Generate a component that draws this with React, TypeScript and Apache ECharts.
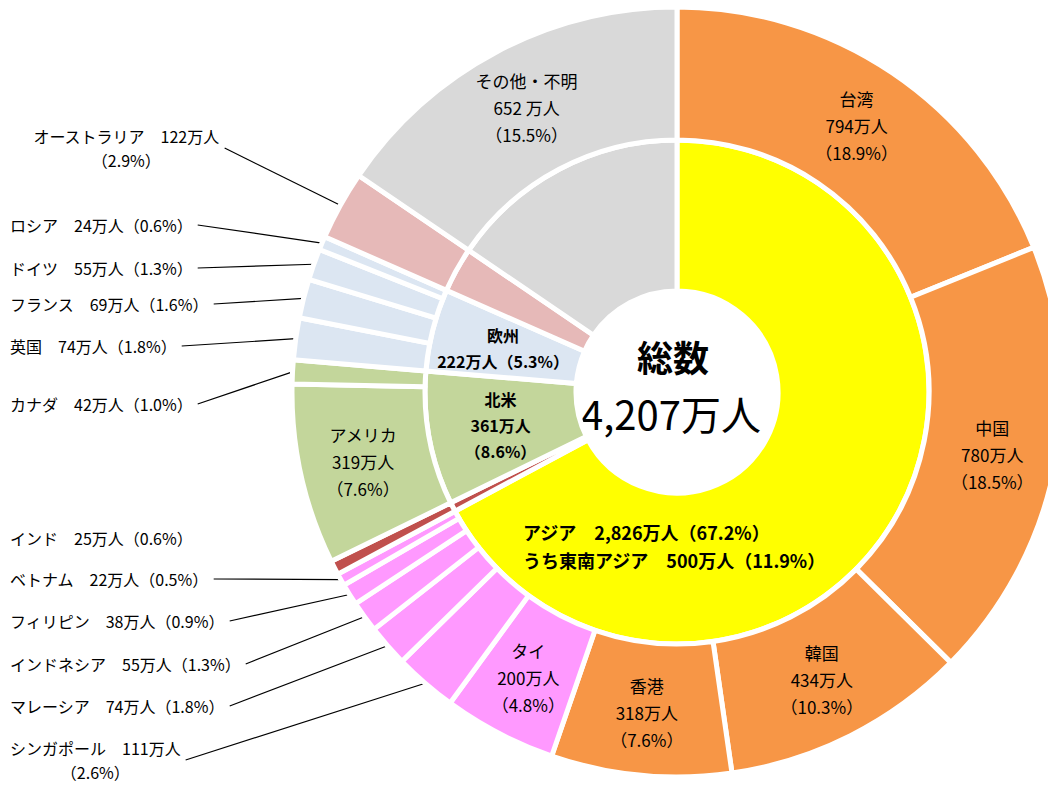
import React, { useEffect, useRef } from "react";
import * as echarts from "echarts";

// ---------- data ----------
const TOTAL = 4207;
const TOTAL_LABEL = "総数";

const outerNames = [
  "台湾", "中国", "韓国", "香港", "タイ", "シンガポール", "マレーシア", "インドネシア",
  "フィリピン", "ベトナム", "インド", "アメリカ", "カナダ", "英国", "フランス", "ドイツ",
  "ロシア", "オーストラリア", "その他・不明",
];
const outerValues = [794, 780, 434, 318, 200, 111, 74, 55, 38, 22, 25, 319, 42, 74, 69, 55, 24, 122, 652];
const outerPcts = [18.9, 18.5, 10.3, 7.6, 4.8, 2.6, 1.8, 1.3, 0.9, 0.5, 0.6, 7.6, 1.0, 1.8, 1.6, 1.3, 0.6, 2.9, 15.5];

const innerNames = ["アジア", "インド", "北米", "欧州", "オーストラリア", "その他・不明"];
const innerValues = [2826, 25, 361, 222, 122, 652];
const innerPcts = [67.2, 0.6, 8.6, 5.3, 2.9, 15.5];

const subName = "うち東南アジア";
const subValue = 500;
const subPct = 11.9;

// ---------- styles ----------
const ORANGE = "#F79646";
const PINK = "#FF99FF";
const RED = "#C0504D";
const GREEN = "#C3D69B";
const BLUE = "#DCE6F2";
const ROSE = "#E6B9B8";
const GRAY = "#D9D9D9";
const YELLOW = "#FFFF00";

const outerColors = [
  ORANGE, ORANGE, ORANGE, ORANGE, PINK, PINK, PINK, PINK, PINK, PINK, RED,
  GREEN, GREEN, BLUE, BLUE, BLUE, BLUE, ROSE, GRAY,
];
const innerColors = [YELLOW, RED, GREEN, BLUE, ROSE, GRAY];

// label kind for outer ring: "in" = inside, "out" = left column with leader line, "outNoLine" = left column, no line
const outerLabelKind = [
  "in", "in", "in", "in", "in", "out", "out", "out", "out", "out", "outNoLine",
  "in", "out", "out", "out", "out", "out", "out", "in",
];
// left column label placement: [left, centerY, centered]
const outerLabelPlace: Record<number, [number, number, boolean]> = {
  5: [10, 760, true],
  6: [10, 706, false],
  7: [10, 664, false],
  8: [10, 621, false],
  9: [10, 579, false],
  10: [10, 538, false],
  12: [10, 404, false],
  13: [10, 346, false],
  14: [10, 304, false],
  15: [10, 268, false],
  16: [10, 225, false],
  17: [33, 148, true],
};
const innerLabelShow = [true, false, true, true, false, false];

const FONT = "'Noto Sans CJK JP', 'Noto Sans CJK SC', sans-serif";
const CENTER: [number, number] = [677, 392];

const fmt = (n: number) => n.toLocaleString("en-US");
const pct = (p: number) => `（${p.toFixed(1)}%）`;

function outerLabelText(i: number): string {
  const name = outerNames[i];
  const v = outerValues[i];
  const p = pct(outerPcts[i]);
  const kind = outerLabelKind[i];
  if (kind === "in") {
    if (name === "その他・不明") return `${name}\n${fmt(v)} 万人\n${p}`;
    return `${name}\n${fmt(v)}万人\n${p}`;
  }
  const place = outerLabelPlace[i];
  if (place && place[2]) return `${name}　${fmt(v)}万人\n${p}`;
  return `${name}　${fmt(v)}万人${p}`;
}

function innerLabelText(i: number): string {
  const name = innerNames[i];
  const v = innerValues[i];
  const p = pct(innerPcts[i]);
  if (i === 0) return `${name}　${fmt(v)}万人${p}\n${subName}　${fmt(subValue)}万人${pct(subPct)}`;
  if (name === "欧州") return `${name}\n${fmt(v)}万人${p}`;
  return `${name}\n${fmt(v)}万人\n${p}`;
}

export default function App() {
  const ref = useRef<HTMLDivElement>(null);

  useEffect(() => {
    document.body.style.margin = "0";
    if (!ref.current) return;
    const chart = echarts.init(ref.current, undefined, { renderer: "svg" });

    const outerData = outerValues.map((v, i) => {
      const kind = outerLabelKind[i];
      return {
        name: outerNames[i],
        value: v,
        itemStyle: { color: outerColors[i] },
        label: {
          show: true,
          position: kind === "in" ? "inside" : "outside",
          formatter: outerLabelText(i),
          fontSize: kind === "in" ? 17 : 16,
          lineHeight: kind === "in" ? 27 : 24,
          color: "#000",
          fontFamily: FONT,
        },
        labelLine: {
          show: kind === "out",
          lineStyle: { color: "#000", width: 1.2 },
        },
      };
    });

    const innerData = innerValues.map((v, i) => ({
      name: innerNames[i],
      value: v,
      itemStyle: { color: innerColors[i] },
      label: {
        show: innerLabelShow[i],
        position: "inside",
        formatter: innerLabelText(i),
        fontSize: i === 0 ? 18 : 16,
        lineHeight: i === 0 ? 28 : 26,
        fontWeight: "bold",
        color: "#000",
        fontFamily: FONT,
        align: i === 0 ? "left" : "center",
      },
      labelLine: { show: false },
    }));

    chart.setOption({
      animation: false,
      backgroundColor: "#fff",
      series: [
        {
          type: "pie",
          name: "inner",
          center: CENTER,
          radius: [101, 252],
          startAngle: 90,
          clockwise: true,
          avoidLabelOverlap: false,
          silent: true,
          itemStyle: { borderColor: "#fff", borderWidth: 5 },
          data: innerData,
          labelLayout: (params: any) => {
            if (params.dataIndex === 0) {
              return { x: 523, y: 546, align: "left", verticalAlign: "middle" };
            }
            return {};
          },
        },
        {
          type: "pie",
          name: "outer",
          center: CENTER,
          radius: [252, 385],
          startAngle: 90,
          clockwise: true,
          avoidLabelOverlap: false,
          silent: true,
          itemStyle: { borderColor: "#fff", borderWidth: 5 },
          labelLine: { length: 10, length2: 10 },
          data: outerData,
          labelLayout: (params: any) => {
            const place = outerLabelPlace[params.dataIndex];
            if (!place) return {};
            const [left, cy, centered] = place;
            const w = params.labelRect.width;
            const res: any = {
              x: centered ? left + w / 2 : left,
              y: cy,
              align: centered ? "center" : "left",
              verticalAlign: "middle",
            };
            const pts = params.labelLinePoints;
            if (pts && pts.length && outerLabelKind[params.dataIndex] === "out") {
              const end = [left + w + 5, cy];
              res.labelLinePoints = [pts[0], end, end];
            }
            return res;
          },
        },
      ],
      graphic: [
        {
          type: "text",
          x: CENTER[0] - 4,
          y: 356,
          silent: true,
          style: {
            text: TOTAL_LABEL,
            fontSize: 36,
            lineHeight: 38,
            fontWeight: "bold",
            fontFamily: FONT,
            fill: "#000",
            align: "center",
            verticalAlign: "middle",
            textAlign: "center",
            textVerticalAlign: "middle",
          },
        },
        {
          type: "text",
          x: CENTER[0] - 6,
          y: 413,
          silent: true,
          style: {
            text: `${fmt(TOTAL)}万人`,
            fontSize: 40,
            lineHeight: 42,
            fontFamily: FONT,
            fill: "#000",
            align: "center",
            verticalAlign: "middle",
            textAlign: "center",
            textVerticalAlign: "middle",
          },
        },
      ],
    });

    return () => {
      chart.dispose();
    };
  }, []);

  return <div ref={ref} style={{ width: 1048, height: 785 }} />;
}
